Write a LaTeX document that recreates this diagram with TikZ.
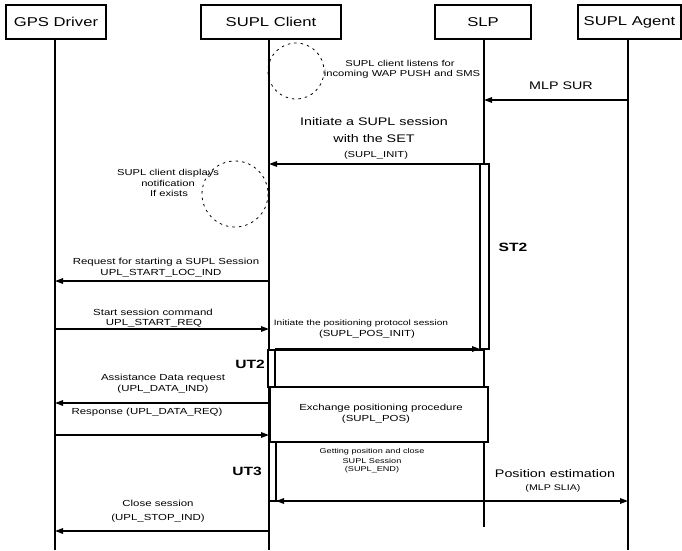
\documentclass[tikz,border=0pt]{standalone}
\usepackage{fontspec}
\setmainfont{Liberation Sans}[FakeStretch=1.3]
\usetikzlibrary{arrows.meta}
\begin{document}
\begin{tikzpicture}[x=1pt,y=-1pt,
  hdr/.style={draw, line width=1.2pt, font=\fontsize{12.8}{14}\selectfont, inner sep=0pt},
  life/.style={line width=1.6pt},
  msg/.style={line width=1.4pt, -{Triangle[length=8pt,width=5.5pt]}},
  lbl/.style={font=\fontsize{8.8}{10}\selectfont, inner sep=0pt},
  tiny/.style={font=\fontsize{8.6}{10}\selectfont, inner sep=0pt},
  small/.style={font=\fontsize{7}{8}\selectfont, inner sep=0pt},
  big/.style={font=\fontsize{11}{13}\selectfont, inner sep=0pt},
  tag/.style={font=\bfseries\fontsize{12}{14}\selectfont, inner sep=0pt},
  barbox/.style={draw, fill=white, line width=1.2pt},
  halo/.style={dash pattern=on 2.5pt off 4pt, line width=0.8pt}
]
\useasboundingbox (0,0) rectangle (682,550);

% headers
\node[hdr, minimum width=100pt, minimum height=34pt] (gps) at (56,22) {GPS Driver};
\node[hdr, minimum width=140pt, minimum height=34pt] (cli) at (271,22) {SUPL Client};
\node[hdr, minimum width=96pt, minimum height=34pt] (slp) at (483,22) {SLP};
\node[hdr, minimum width=103pt, minimum height=34pt] (agt) at (629.5,22) {SUPL Agent};

% lifeline ends
\coordinate (gpsT) at (55,39);  \coordinate (gpsB) at (55,550);
\coordinate (cliT) at (269,39); \coordinate (cliB) at (269,550);
\coordinate (slpT) at (484,39); \coordinate (slpB) at (484,527);
\coordinate (agtT) at (628,39); \coordinate (agtB) at (628,550);
\draw[life] (gpsT) -- (gpsB);
\draw[life] (cliT) -- (cliB);
\draw[life] (slpT) -- (slpB);
\draw[life] (agtT) -- (agtB);

% dashed circles
\draw[halo] (296,71) circle (28);
\draw[halo] (235,194) circle (33);

% boxes
\draw[barbox] (480,164) rectangle (489,349);
\draw[line width=1.2pt] (275,350) rectangle (484,387);
\draw[barbox] (268,350) rectangle (275,387);
\draw[barbox] (270,387) rectangle (488,442);
\draw[line width=1.2pt] (276,442) rectangle (484,501);
\draw[barbox] (269,442) rectangle (276,501);

% message end points
\coordinate (m1a) at (628,100); \coordinate (m1b) at (484,100);
\coordinate (m2a) at (480,164); \coordinate (m2b) at (269,164);
\coordinate (m3a) at (269,281); \coordinate (m3b) at (55,281);
\coordinate (m4a) at (55,329);  \coordinate (m4b) at (269,329);
\coordinate (m5a) at (275,349); \coordinate (m5b) at (480,349);
\coordinate (m6a) at (268,403); \coordinate (m6b) at (55,403);
\coordinate (m7a) at (55,435);  \coordinate (m7b) at (269,435);
\coordinate (m8a) at (484,501); \coordinate (m8b) at (276,501);
\coordinate (m9a) at (484,501); \coordinate (m9b) at (628,501);
\coordinate (m10a) at (269,531); \coordinate (m10b) at (55,531);

\draw[msg] (m1a) -- (m1b);
\draw[msg] (m2a) -- (m2b);
\draw[msg] (m3a) -- (m3b);
\draw[msg] (m4a) -- (m4b);
\draw[msg] (m5a) -- (m5b);
\draw[msg] (m6a) -- (m6b);
\draw[msg] (m7a) -- (m7b);
\draw[msg] (m8a) -- (m8b);
\draw[msg] (m9a) -- (m9b);
\draw[msg] (m10a) -- (m10b);

% labels
\node[tiny] (t1) at (400,63) {SUPL client listens for};
\node[tiny] (t2) at (402,74) {incoming WAP PUSH and SMS};
\node[big] (l1) at (561,86) {MLP SUR};
\node[big] (l2a) at (374,122) {Initiate a SUPL session};
\node[big] (l2b) at (374,139) {with the SET};
\node[tiny] (l2c) at (376,155) {(SUPL\_INIT)};
\node[tiny] (d1) at (168,173) {SUPL client displays};
\node[tiny] (d2) at (168,183) {notification};
\node[tiny] (d3) at (169,193) {If exists};
\node[tag] (st2) at (513,247) {ST2};
\node[lbl] (l3a) at (166,262) {Request for starting a SUPL Session};
\node[lbl] (l3b) at (161,273) {UPL\_START\_LOC\_IND};
\node[lbl] (l4a) at (153,312) {Start session command};
\node[lbl] (l4b) at (154,323) {UPL\_START\_REQ};
\node[small,font=\fontsize{7.8}{9}\selectfont] (l5a) at (361,323) {Initiate the positioning protocol session};
\node[lbl] (l5b) at (367,334) {(SUPL\_POS\_INIT)};
\node[tag] (ut2) at (250,364) {UT2};
\node[lbl] (l6a) at (163,378) {Assistance Data request};
\node[lbl] (l6b) at (163,389) {(UPL\_DATA\_IND)};
\node[lbl] (l7) at (147,412) {Response (UPL\_DATA\_REQ)};
\node[lbl] (ex1) at (381,408) {Exchange positioning procedure};
\node[lbl] (ex2) at (376,419) {(SUPL\_POS)};
\node[tag] (ut3) at (247,471) {UT3};
\node[small] (g1) at (372,452) {Getting position and close};
\node[small] (g2) at (372,461) {SUPL Session};
\node[small] (g3) at (372,470) {(SUPL\_END)};
\node[big] (p1) at (555,474) {Position estimation};
\node[small,font=\fontsize{8.2}{9}\selectfont] (p2) at (553,488) {(MLP SLIA)};
\node[lbl] (c1) at (158,503) {Close session};
\node[lbl] (c2) at (158,518) {(UPL\_STOP\_IND)};
\end{tikzpicture}
\end{document}
